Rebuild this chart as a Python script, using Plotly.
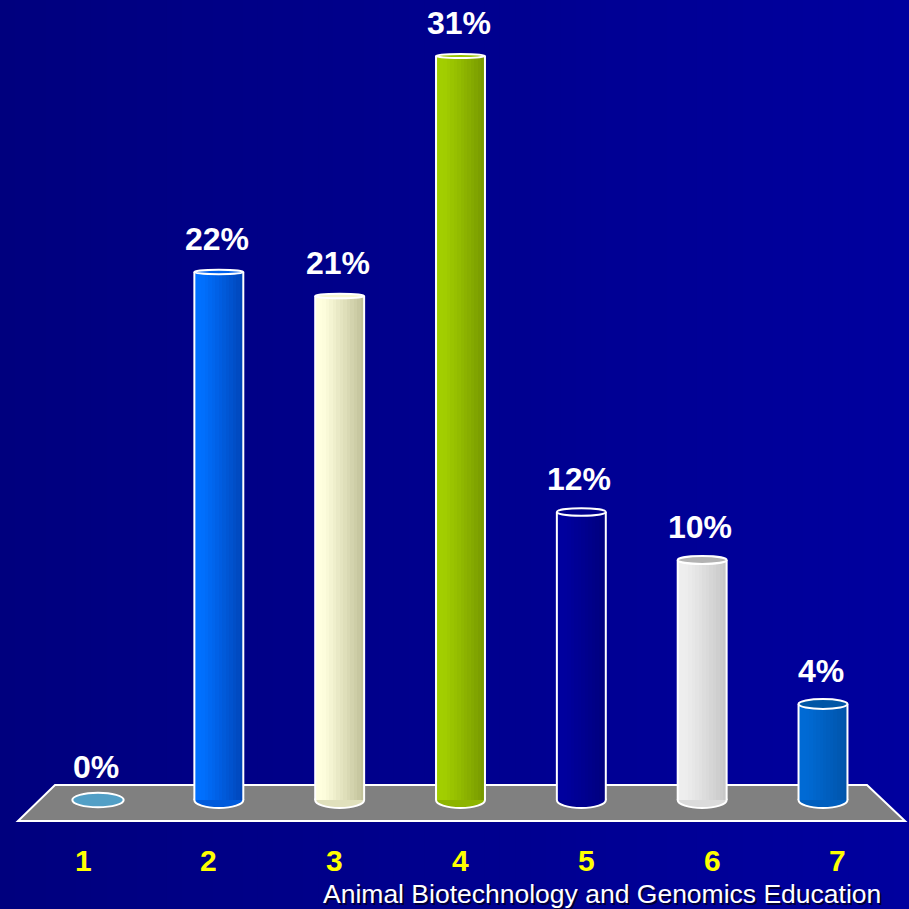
import plotly.graph_objects as go

# ---- data ----
categories = ["1", "2", "3", "4", "5", "6", "7"]
positions = [1, 2, 3, 4, 5, 6, 7]
values = [0, 22, 21, 31, 12, 10, 4]
value_labels = ["0%", "22%", "21%", "31%", "12%", "10%", "4%"]
footer_text = "Animal Biotechnology and Genomics Education"

# ---- styles ----
light = ["#5AAAD0", "#0070FF", "#FFFFDE", "#A2CE00", "#00009E", "#EEEEEE", "#006AD4"]
dark = ["#4A94BC", "#0046BA", "#C2C29A", "#789A00", "#00007E", "#C8C8C8", "#0054AA"]
cap = ["#4C9CC4", "#0062EE", "#F6F6D0", "#98C400", "#00008C", "#B2B2B2", "#0056A6"]

W, H = 909, 909
PX_X = 120.833          # pixels per x unit (cylinders)
PX_Y = 24.0             # pixels per percent
X0_PX, Y0_PX = 98, 800  # pixel position of x=1, y=0
x_range = [1 - X0_PX / PX_X, 1 + (W - X0_PX) / PX_X]
y_range = [-(H - Y0_PX) / PX_Y, Y0_PX / PX_Y]

# category labels sit on a slightly wider front scale
PX_X2, X2_PX = 125.83, 83
x2_range = [1 - X2_PX / PX_X2, 1 + (W - X2_PX) / PX_X2]

BAR_W = 0.405
N_STRIPS = 14
FONT = "Liberation Sans, Arial, sans-serif"


def hex_rgb(h):
    h = h.lstrip("#")
    return [int(h[i:i + 2], 16) for i in (0, 2, 4)]


def mix(c1, c2, t):
    a, b = hex_rgb(c1), hex_rgb(c2)
    return "rgb({},{},{})".format(*[round(a[i] + (b[i] - a[i]) * t) for i in range(3)])


fig = go.Figure()
shapes = []

# horizontal background gradient
n_bg = 60
for i in range(n_bg):
    shapes.append(dict(type="rect", xref="paper", yref="paper", layer="below",
                       x0=i / n_bg, x1=(i + 1) / n_bg + 0.002, y0=0, y1=1,
                       fillcolor=mix("#00007E", "#00009E", i / (n_bg - 1)),
                       line=dict(width=0)))


def px2paper(px, py):
    return px / W, 1 - py / H


# floor
pts = [px2paper(55, 785), px2paper(867, 785), px2paper(905, 821), px2paper(18, 821)]
path = "M {} {} L {} {} L {} {} L {} {} Z".format(*[c for p in pts for c in p])
shapes.append(dict(type="path", xref="paper", yref="paper", layer="below", path=path,
                   fillcolor="#808080", line=dict(color="white", width=2)))

# rounded bottoms of the cylinders (the bar bodies cover their upper half)
BOT_H = 8 / PX_Y
for x, v, lc, dc in zip(positions, values, light, dark):
    grow = 0.01 if v == 0 else 0
    hb = BOT_H * (0.9 if v == 0 else 1)
    shapes.append(dict(type="circle", xref="x", yref="y", layer="below",
                       x0=x - BAR_W / 2 - grow, x1=x + BAR_W / 2 + grow,
                       y0=-hb, y1=hb,
                       fillcolor=mix(lc, dc, 0.5), line=dict(color="white", width=2)))

# cylinder bodies: vertical strips give the shaded look
strip_w = BAR_W / N_STRIPS
for i in range(N_STRIPS):
    t = i / (N_STRIPS - 1)
    tt = max(0.0, (t - 0.12) / 0.88) ** 1.1
    fig.add_trace(go.Bar(
        x=positions, y=values, base=0,
        width=[strip_w * 1.08] * len(values),
        offset=[-BAR_W / 2 + i * strip_w] * len(values),
        marker=dict(color=[mix(l, d, tt) for l, d in zip(light, dark)], line=dict(width=0)),
        hoverinfo="skip", showlegend=False))

# outlines and top caps
for x, v, cc in zip(positions, values, cap):
    if v == 0:
        continue
    for side in (-1, 1):
        shapes.append(dict(type="line", xref="x", yref="y", layer="above",
                           x0=x + side * BAR_W / 2, x1=x + side * BAR_W / 2, y0=0, y1=v,
                           line=dict(color="white", width=2)))
    top_px = Y0_PX - v * PX_Y
    hh = (2 + max(0.0, top_px - 250) * 0.0065) / PX_Y
    shapes.append(dict(type="circle", xref="x", yref="y", layer="above",
                       x0=x - BAR_W / 2, x1=x + BAR_W / 2, y0=v - hh, y1=v + hh,
                       fillcolor=cc, line=dict(color="white", width=2)))

annotations = []
# value labels above each cylinder
for x, v, lab in zip(positions, values, value_labels):
    annotations.append(dict(x=x, y=v, xref="x", yref="y", text="<b>%s</b>" % lab,
                            showarrow=False, yanchor="bottom", yshift=13, xshift=-2,
                            font=dict(family=FONT, size=32, color="white")))
# category labels
for x, c in zip(positions, categories):
    annotations.append(dict(x=x, y=1 - 860 / H, xref="x2", yref="paper", text="<b>%s</b>" % c,
                            showarrow=False, yanchor="middle",
                            font=dict(family="Liberation Sans Narrow, Arial Narrow, sans-serif",
                                      size=30, color="#FFFF00")))
# footer with drop shadow
for col, dx, dy in (("#000033", 2, -2), ("white", 0, 0)):
    annotations.append(dict(x=601.5 / W, y=0, xref="paper", yref="paper", text=footer_text,
                            showarrow=False, yanchor="bottom", xanchor="center",
                            xshift=dx, yshift=-2 + dy,
                            font=dict(family=FONT, size=26.5, color=col)))

fig.update_layout(
    width=W, height=H, autosize=False,
    margin=dict(l=0, r=0, t=0, b=0),
    paper_bgcolor="#000088", plot_bgcolor="rgba(0,0,0,0)",
    barmode="overlay", bargap=0,
    xaxis=dict(range=x_range, visible=False, fixedrange=True),
    xaxis2=dict(range=x2_range, visible=False, fixedrange=True, overlaying="x"),
    yaxis=dict(range=y_range, visible=False, fixedrange=True),
    shapes=shapes, annotations=annotations, showlegend=False,
)

fig.write_html("out.html", config={"displayModeBar": False})
